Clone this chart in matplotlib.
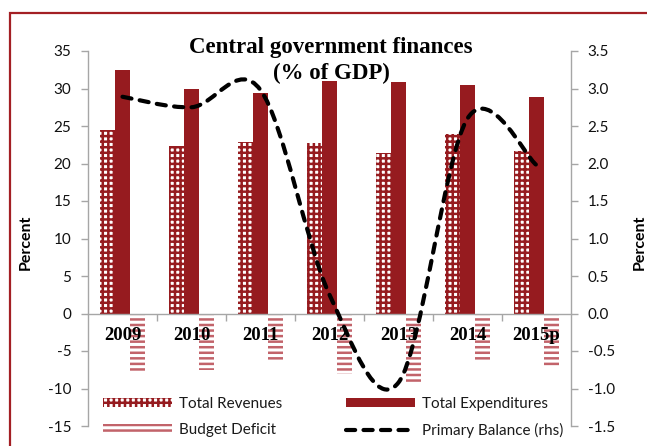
import numpy as np
import matplotlib
matplotlib.use('Agg')
import matplotlib.pyplot as plt
from matplotlib.path import Path
from matplotlib.patches import PathPatch, Patch, Rectangle
from matplotlib.lines import Line2D

# ---- data ----
years = ['2009', '2010', '2011', '2012', '2013', '2014', '2015p']
revenues = [24.5, 22.3, 22.9, 22.8, 21.4, 23.9, 21.7]
expenditures = [32.5, 29.9, 29.4, 31.0, 30.9, 30.5, 28.9]
deficit = [-7.7, -7.5, -6.3, -8.1, -9.2, -6.2, -7.0]
primary_balance = [2.89, 2.75, 2.98, 0.25, -0.92, 2.60, 1.98]
left_ticks = [-15, -10, -5, 0, 5, 10, 15, 20, 25, 30, 35]
right_ticks = [-1.5, -1.0, -0.5, 0.0, 0.5, 1.0, 1.5, 2.0, 2.5, 3.0, 3.5]

DARK = '#961B1F'
STRIPE = '#C2636A'
GREY = '#A6A6A6'
SANS = ['Lato', 'DejaVu Sans']
SERIF = ['Liberation Serif', 'DejaVu Serif']

plt.rcParams['hatch.linewidth'] = 1.8

W, H = 647, 446
fig = plt.figure(figsize=(W / 100, H / 100), dpi=100)
ax = fig.add_axes([88 / W, 20 / H, 483 / W, 375 / H])
ax2 = ax.twinx()

x = np.arange(len(years))
bw = 0.217

b_rev = ax.bar(x - bw, revenues, bw, facecolor='white', edgecolor=DARK,
               hatch='+++', linewidth=0)
b_exp = ax.bar(x, expenditures, bw, facecolor=DARK, edgecolor=DARK, linewidth=0)
b_def = ax.bar(x + bw, deficit, bw, facecolor='white', edgecolor=STRIPE,
               hatch='---', linewidth=0)

# axis limits / ticks
ax.set_xlim(-0.5, len(years) - 0.5)
ax.set_ylim(-15, 35)
ax.set_yticks(left_ticks)
ax.set_yticklabels([str(t) for t in left_ticks], fontfamily=SANS, fontsize=11, color='#111111')
ax2.set_ylim(-1.5, 3.5)
ax2.set_yticks(right_ticks)
ax2.set_yticklabels(['%.1f' % t for t in right_ticks], fontfamily=SANS, fontsize=11, color='#111111')

ax.spines['top'].set_visible(False)
ax2.spines['top'].set_visible(False)
ax2.patch.set_visible(False)
ax2.spines['bottom'].set_visible(False)
ax2.spines['left'].set_visible(False)
ax.spines['right'].set_visible(False)
ax.spines['left'].set_color(GREY)
ax2.spines['right'].set_color(GREY)
ax.spines['bottom'].set_position(('data', 0))
ax.spines['bottom'].set_color(GREY)
for s in ('left', 'bottom'):
    ax.spines[s].set_linewidth(1.0)
ax2.spines['right'].set_linewidth(1.0)

ax.tick_params(axis='y', length=5, width=1, color=GREY, pad=7)
ax2.tick_params(axis='y', length=5, width=1, color=GREY, pad=7)

ax.set_xticks(x)
ax.set_xticklabels(years, fontfamily=SERIF, fontweight='bold', fontsize=13.5)
ax.tick_params(axis='x', which='major', length=0, pad=10)
ax.set_xticks(x[:-1] + 0.5, minor=True)
ax.tick_params(axis='x', which='minor', length=5, width=1, color=GREY, direction='out')

ax.set_ylabel('Percent', fontfamily=SANS, fontweight='bold', fontsize=11.5)
ax.yaxis.set_label_coords(-0.114, 0.49)
ax2.set_ylabel('Percent', fontfamily=SANS, fontweight='bold', fontsize=11.5)
ax2.yaxis.set_label_coords(1.128, 0.49)

# smoothed primary balance line (Catmull-Rom -> cubic Bezier, like Excel smoothing)
xs = x.astype(float)
ys = np.array(primary_balance, dtype=float)
n = len(xs)
verts = [(xs[0], ys[0])]
codes = [Path.MOVETO]
for i in range(n - 1):
    p0 = i - 1 if i > 0 else i
    p3 = i + 2 if i + 2 < n else i + 1
    c1 = (xs[i] + (xs[i + 1] - xs[p0]) / 6, ys[i] + (ys[i + 1] - ys[p0]) / 6)
    c2 = (xs[i + 1] - (xs[p3] - xs[i]) / 6, ys[i + 1] - (ys[p3] - ys[i]) / 6)
    verts += [c1, c2, (xs[i + 1], ys[i + 1])]
    codes += [Path.CURVE4] * 3
dash = (0, (2.2, 2.0))
LW = 3.0
pp = PathPatch(Path(verts, codes), fill=False, edgecolor='black', linewidth=LW,
               linestyle=dash, capstyle='round', transform=ax2.transData, zorder=5)
ax2.add_patch(pp)

# legends
h_rev = Patch(facecolor='white', edgecolor=DARK, hatch='+++', linewidth=0)
h_def = Patch(facecolor='white', edgecolor=STRIPE, hatch='---', linewidth=0)
h_exp = Patch(facecolor=DARK, edgecolor=DARK, linewidth=0)
h_pb = Line2D([], [], color='black', linewidth=LW, linestyle=dash, dash_capstyle='round')

common = dict(frameon=False, prop={'family': SANS, 'size': 11}, handlelength=4.5,
              handleheight=0.55, handletextpad=0.5, labelspacing=0.8,
              borderpad=0, borderaxespad=0, loc='upper left',
              bbox_transform=fig.transFigure)
leg1 = ax2.legend([h_rev, h_def], ['Total Revenues', 'Budget Deficit'],
                  bbox_to_anchor=(103 / W, 1 - 397 / H), **common)
ax2.add_artist(leg1)
leg2 = ax2.legend([h_exp, h_pb], ['Total Expenditures', 'Primary Balance (rhs)'],
                  bbox_to_anchor=(346 / W, 1 - 397 / H), **common)
for lg in (leg1, leg2):
    for t in lg.get_texts():
        t.set_color('#1a1a1a')

# title
fig.text(331 / W, 1 - 47 / H, 'Central government finances', ha='center', va='center',
         fontfamily=SERIF, fontweight='bold', fontsize=16.5)
fig.text(331 / W, 1 - 73 / H, '(% of GDP)', ha='center', va='center',
         fontfamily=SERIF, fontweight='bold', fontsize=16.5)

# frame
fig.add_artist(Rectangle((9.5 / W, -0.2), 1.5, 1 - 12.5 / H + 0.2, transform=fig.transFigure,
                         fill=False, edgecolor='#A31F24', linewidth=1.6, clip_on=False))

fig.savefig('out.png', dpi=100)
